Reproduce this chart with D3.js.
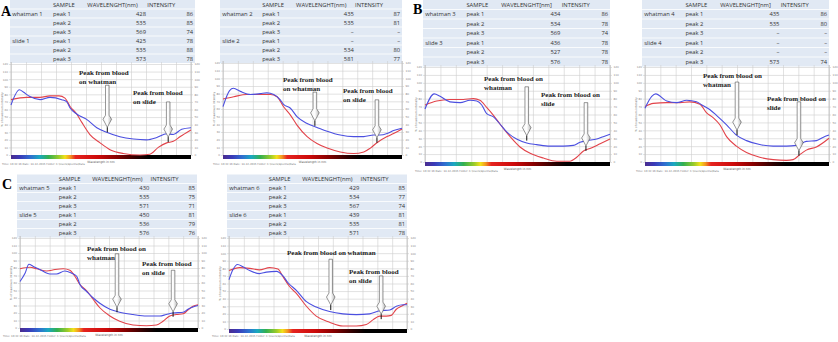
<!DOCTYPE html>
<html>
<head>
<meta charset="utf-8">
<script src="https://cdn.jsdelivr.net/npm/d3@7"></script>
<style>
  body { margin: 0; background: #fff; }
  svg { display: block; }
</style>
</head>
<body>
<svg id="fig" width="838" height="342"></svg>
<script>
// ---- Reflectance spectra: [wavelength nm, % of maximum intensity] ----
const whatmanCurve1 = [[400,66],[428,86],[441,83],[463,77],[497,73],[530,76],[569,73],[586,70],[597,62],[619,54],[652,47],[686,36],[719,30],[763,24],[808,21],[852,20],[886,23],[919,28],[941,27],[969,34],[1000,36]];
const slideCurve1   = [[400,73],[452,76],[497,76],[530,78],[560,78],[580,75],[597,64],[619,54],[636,43],[663,27],[697,16],[730,7],[774,2],[830,0],[863,1],[891,10],[919,16],[941,18],[963,24],[1000,33]];

const whatmanCurve2 = [[400,63],[422,84],[435,87],[458,83],[492,79],[525,80],[547,81],[570,79],[592,72],[603,66],[626,61],[648,50],[682,41],[715,36],[749,31],[793,26],[838,24],[872,24],[905,26],[927,26],[950,28],[972,32],[1000,35]];
const slideCurve2   = [[400,73],[436,76],[480,79],[525,79],[559,79],[581,76],[603,63],[626,52],[648,39],[682,24],[715,15],[749,9],[793,4],[838,2],[872,4],[894,9],[916,16],[950,24],[972,28],[1000,34]];

const whatmanCurve3 = [[400,67],[430,86],[449,83],[481,76],[514,75],[546,78],[568,77],[584,72],[600,61],[622,57],[643,48],[665,38],[697,29],[730,24],[762,22],[805,20],[849,20],[881,21],[903,25],[924,27],[957,29],[978,32],[1000,35]];
const slideCurve3   = [[400,72],[438,77],[481,79],[524,79],[557,80],[578,78],[600,69],[622,59],[643,48],[676,32],[708,19],[741,11],[784,5],[827,1],[870,1],[892,6],[914,14],[935,17],[968,23],[1000,29]];

const whatmanCurve4 = [[400,68],[422,83],[435,86],[471,77],[503,75],[536,78],[568,76],[590,71],[612,66],[633,59],[666,47],[698,34],[731,27],[774,22],[818,20],[861,20],[894,21],[926,26],[959,27],[980,31],[1000,34]];
const slideCurve4   = [[400,70],[427,74],[471,75],[514,75],[546,76],[579,73],[601,62],[622,56],[644,47],[666,32],[698,20],[731,12],[774,6],[818,3],[861,2],[883,3],[904,9],[926,15],[959,19],[1000,30]];

const whatmanCurve5 = [[400,62],[417,73],[430,85],[445,82],[467,78],[501,72],[523,72],[551,76],[574,73],[591,69],[602,58],[624,49],[647,40],[669,33],[703,25],[736,21],[781,18],[826,16],[871,16],[893,18],[916,20],[950,21],[966,25],[983,28],[1000,30]];
const slideCurve5   = [[400,79],[434,81],[456,79],[490,76],[518,78],[546,79],[568,77],[585,69],[602,58],[624,50],[647,38],[669,27],[703,16],[736,9],[781,4],[826,3],[860,4],[882,9],[905,16],[927,18],[950,19],[966,24],[983,29],[1000,31]];

const whatmanCurve6 = [[400,65],[413,78],[429,85],[447,82],[470,77],[503,73],[526,75],[560,76],[582,70],[599,61],[627,51],[661,36],[694,29],[739,23],[784,20],[829,19],[874,20],[908,24],[942,25],[964,30],[987,32],[1000,32]];
const slideCurve6   = [[400,77],[436,81],[470,80],[503,78],[537,81],[565,79],[582,69],[604,56],[627,47],[661,30],[694,17],[739,9],[784,4],[829,4],[863,6],[885,12],[908,17],[930,17],[947,18],[964,26],[981,30],[1000,34]];

// ---- Peak tables: [wavelength nm, intensity]; null = no peak found ----
const peakNames = ["peak 1", "peak 2", "peak 3"];
const whatmanPeaks1 = [[428,86],[535,85],[569,74]];
const slidePeaks1   = [[425,78],[535,88],[573,78]];
const whatmanPeaks2 = [[435,87],[535,81],null];
const slidePeaks2   = [null,[534,80],[581,77]];
const whatmanPeaks3 = [[434,86],[534,78],[569,74]];
const slidePeaks3   = [[436,78],[527,78],[576,78]];
const whatmanPeaks4 = [[435,86],[535,80],null];
const slidePeaks4   = [null,null,[573,74]];
const whatmanPeaks5 = [[430,85],[535,75],[571,71]];
const slidePeaks5   = [[450,81],[536,79],[576,76]];
const whatmanPeaks6 = [[429,85],[534,77],[567,74]];
const slidePeaks6   = [[439,81],[535,81],[571,78]];

// axis ranges
const wavelengthRange = [400, 1000];
const wavelengthTicks = d3.range(400, 1001, 50);
const intensityRange = [0, 120];
const intensityTicks = d3.range(0, 121, 10);

// ---- Panel layout ----
const panels = [
  { n: 1, letter: {t: "A", x: 1, y: 16}, head: "WAVELENGHT(nm)",
    w: whatmanCurve1, s: slideCurve1, wp: whatmanPeaks1, sp: slidePeaks1,
    table: {x: 10, y: 0, w: 185, rowH: 9},
    plot: {x0: 11, x1: 191, y0: 64, y1: 155}, footY: 165, footX: 2,
    arrows: [
      {wl: 721, top: 92, tip: 30, lines: ["Peak from blood", "on whatman"], tx: 79, ty: 73},
      {wl: 924, top: 70, tip: 17, lines: ["Peak from blood", "on slide"], tx: 133, ty: 93}
    ] },
  { n: 2, letter: null, head: "WAVELENGHT(nm)",
    w: whatmanCurve2, s: slideCurve2, wp: whatmanPeaks2, sp: slidePeaks2,
    table: {x: 220, y: 0, w: 182, rowH: 9},
    plot: {x0: 223, x1: 402, y0: 63, y1: 155}, footY: 165, footX: 213,
    arrows: [
      {wl: 708, top: 82, tip: 38, lines: ["Peak from blood", "on whatman"], tx: 283, ty: 80},
      {wl: 916, top: 72, tip: 16, lines: ["Peak from blood", "on slide"], tx: 343, ty: 91}
    ] },
  { n: 3, letter: {t: "B", x: 413, y: 14}, head: "WAVELENGHT[nm]",
    w: whatmanCurve3, s: slideCurve3, wp: whatmanPeaks3, sp: slidePeaks3,
    table: {x: 423, y: 0, w: 187, rowH: 9.5},
    plot: {x0: 425, x1: 610, y0: 67, y1: 162}, footY: 172, footX: 415,
    arrows: [
      {wl: 730, top: 95, tip: 27, lines: ["Peak from blood on", "whatman"], tx: 484, ty: 79},
      {wl: 922, top: 75, tip: 14, lines: ["Peak from blood on", "slide"], tx: 541, ty: 95}
    ] },
  { n: 4, letter: null, head: "WAVELENGHT[nm]",
    w: whatmanCurve4, s: slideCurve4, wp: whatmanPeaks4, sp: slidePeaks4,
    table: {x: 642, y: 0, w: 187, rowH: 9.5},
    plot: {x0: 645, x1: 829, y0: 67, y1: 162}, footY: 172, footX: 636,
    arrows: [
      {wl: 700, top: 101, tip: 34, lines: ["Peak from blood on", "whatman"], tx: 703, ty: 76},
      {wl: 902, top: 76, tip: 8, lines: ["Peak from blood on", "slide"], tx: 767, ty: 99}
    ] },
  { n: 5, letter: {t: "C", x: 2, y: 189}, head: "WAVELENGHT(nm)",
    w: whatmanCurve5, s: slideCurve5, wp: whatmanPeaks5, sp: slidePeaks5,
    table: {x: 17, y: 174.5, w: 180, rowH: 9},
    plot: {x0: 20, x1: 198, y0: 238, y1: 328}, footY: 337, footX: 3,
    arrows: [
      {wl: 727, top: 99, tip: 21, lines: ["Peak from blood on", "whatman"], tx: 87, ty: 249},
      {wl: 916, top: 77, tip: 15, lines: ["Peak from blood", "on slide"], tx: 142, ty: 264}
    ] },
  { n: 6, letter: null, head: "WAVELENGHT(nm)",
    w: whatmanCurve6, s: slideCurve6, wp: whatmanPeaks6, sp: slidePeaks6,
    table: {x: 227, y: 174.5, w: 180, rowH: 9},
    plot: {x0: 229, x1: 407, y0: 238, y1: 329}, footY: 337, footX: 212,
    arrows: [
      {wl: 743, top: 92, tip: 25, lines: ["Peak from blood on whatman"], tx: 287, ty: 253},
      {wl: 913, top: 70, tip: 13, lines: ["Peak from blood", "on slide"], tx: 349, ty: 272}
    ] }
];

const svg = d3.select("#fig");
svg.append("rect").attr("width", 838).attr("height", 342).attr("fill", "#fff");

// visible-spectrum strip under each plot
const spectrumStops = [
  [400, "#4a2c8e"], [430, "#3a3ab8"], [465, "#2f6fd0"], [495, "#1aa8c0"],
  [525, "#33b050"], [560, "#9ccc2a"], [580, "#f2e21c"], [598, "#f39220"],
  [615, "#e52420"], [690, "#cc0a0a"], [750, "#8a0000"], [820, "#2a0000"],
  [860, "#000"], [1000, "#000"]
];
const defs = svg.append("defs");
const grad = defs.append("linearGradient").attr("id", "spectrum");
const specFrac = d3.scaleLinear().domain(wavelengthRange).range([0, 1]);
spectrumStops.forEach(([wl, c]) => {
  grad.append("stop").attr("offset", specFrac(wl)).attr("stop-color", c);
});

const tableFont = "'Open Sans', 'Liberation Sans', sans-serif";
const serifBold = "'Liberation Serif', 'DejaVu Serif', serif";

function drawTable(g, p) {
  const t = p.table;
  const nRows = 7;
  const h = t.rowH * nRows;
  g.append("rect").attr("x", t.x).attr("y", t.y).attr("width", t.w).attr("height", h)
    .attr("fill", "#e1e9f4");
  for (let i = 1; i < nRows; i++) {
    g.append("line").attr("x1", t.x).attr("x2", t.x + t.w)
      .attr("y1", t.y + i * t.rowH).attr("y2", t.y + i * t.rowH)
      .attr("stroke", "#fff").attr("stroke-width", 0.8);
  }
  const col = {
    label: t.x + 0.012 * t.w, sample: t.x + 0.232 * t.w, wlHead: t.x + 0.418 * t.w,
    wlEnd: t.x + 0.735 * t.w, intHead: t.x + 0.742 * t.w, intEnd: t.x + 0.99 * t.w
  };
  const txt = (x, i, s, anchor) => g.append("text")
    .attr("x", x).attr("y", t.y + (i + 0.5) * t.rowH + 2)
    .attr("text-anchor", anchor || "start")
    .attr("font-family", tableFont).attr("font-size", 5.8).attr("fill", "#333")
    .text(s);
  txt(col.sample, 0, "SAMPLE");
  txt(col.wlHead, 0, p.head);
  txt(col.intHead, 0, "INTENSITY");
  const rows = [
    ...p.wp.map((v, k) => ({label: k === 0 ? "whatman " + p.n : "", peak: peakNames[k], v})),
    ...p.sp.map((v, k) => ({label: k === 0 ? "slide " + p.n : "", peak: peakNames[k], v}))
  ];
  rows.forEach((r, k) => {
    const i = k + 1;
    if (r.label) txt(col.label, i, r.label);
    txt(col.sample, i, r.peak);
    txt(col.wlEnd, i, r.v ? r.v[0] : "\u2013", "end");
    txt(col.intEnd, i, r.v ? r.v[1] : "\u2013", "end");
  });
}

function drawChart(g, p) {
  const P = p.plot;
  const x = d3.scaleLinear().domain(wavelengthRange).range([P.x0, P.x1]);
  const y = d3.scaleLinear().domain(intensityRange).range([P.y1, P.y0]);

  g.append("rect").attr("x", P.x0).attr("y", P.y0).attr("width", P.x1 - P.x0)
    .attr("height", P.y1 - P.y0).attr("fill", "#fff");

  // horizontal grid with labels on both sides
  const yl = g.append("g").attr("transform", `translate(${P.x0},0)`)
    .call(d3.axisLeft(y).tickValues(intensityTicks).tickSize(-(P.x1 - P.x0 + 2)).tickPadding(3));
  const yr = g.append("g").attr("transform", `translate(${P.x1},0)`)
    .call(d3.axisRight(y).tickValues(intensityTicks).tickSize(2).tickPadding(1.5));
  // vertical grid
  const xg = g.append("g").attr("transform", `translate(0,${P.y1})`)
    .call(d3.axisTop(x).tickValues(wavelengthTicks).tickSize(P.y1 - P.y0 + 2).tickFormat(""));
  [yl, yr, xg].forEach(a => {
    a.select(".domain").remove();
    a.selectAll("line").attr("stroke", "#cfcfcf").attr("stroke-width", 0.6);
    a.selectAll("text").attr("font-size", 2.8).attr("fill", "#8a8a8a")
      .attr("font-family", "'DejaVu Sans', sans-serif");
  });
  yl.selectAll(".tick line").attr("transform", "translate(-2,0)");
  yl.selectAll(".tick text").attr("x", -3);
  // frame sides
  [P.x0, P.x1].forEach(xx => g.append("line").attr("x1", xx).attr("x2", xx)
    .attr("y1", P.y0 - 2).attr("y2", P.y1).attr("stroke", "#b5b5b5").attr("stroke-width", 0.7));

  // y axis title
  g.append("text")
    .attr("transform", `translate(${P.x0 - 8},${(P.y0 + P.y1) / 2}) rotate(-90)`)
    .attr("text-anchor", "middle").attr("font-size", 2.8).attr("fill", "#666")
    .attr("font-family", "'DejaVu Sans', sans-serif")
    .text("% of maximum intensity");

  // spectrum strip and x label
  g.append("rect").attr("x", P.x0).attr("y", P.y1).attr("width", P.x1 - P.x0)
    .attr("height", 4).attr("fill", "url(#spectrum)");
  g.append("text").attr("x", (P.x0 + P.x1) / 2).attr("y", P.y1 + 7.5)
    .attr("text-anchor", "middle").attr("font-size", 3).attr("fill", "#555")
    .attr("font-family", "'DejaVu Sans', sans-serif").text("Wavelength in nm");
  g.append("text").attr("x", p.footX).attr("y", p.footY)
    .attr("font-size", 2.6).attr("fill", "#777")
    .attr("font-family", "'DejaVu Sans', sans-serif")
    .text("Time: 10:32:16     Date: 14-12-2015     Folder: C:\\Users\\Spectra\\Data");

  // spectra
  const line = d3.line().x(d => x(d[0])).y(d => y(d[1])).curve(d3.curveMonotoneX);
  g.append("path").datum(p.s).attr("d", line).attr("fill", "none")
    .attr("stroke", "#e2434a").attr("stroke-width", 1.1);
  g.append("path").datum(p.w).attr("d", line).attr("fill", "none")
    .attr("stroke", "#4b4fe0").attr("stroke-width", 1.1);

  // peak arrows with captions
  p.arrows.forEach(a => {
    const ax = x(a.wl), yt = y(a.top), yTip = y(a.tip);
    const tick = 5, headL = 12, sw = 1.8, hw = 4.3;
    const yH = yTip - tick - headL;
    const path = `M${ax - sw},${yt} L${ax + sw},${yt} L${ax + sw},${yH} L${ax + hw},${yH + 4}
      L${ax},${yTip - tick} L${ax - hw},${yH + 4} L${ax - sw},${yH} Z`;
    g.append("path").attr("d", path).attr("fill", "url(#arrowFill)")
      .attr("stroke", "#444").attr("stroke-width", 0.55);
    g.append("line").attr("x1", ax).attr("x2", ax).attr("y1", yTip - tick).attr("y2", yTip)
      .attr("stroke", "#111").attr("stroke-width", 1);
    a.lines.forEach((s, i) => {
      g.append("text").attr("x", a.tx).attr("y", a.ty + i * 8.2 + 2.4)
        .attr("font-family", serifBold).attr("font-weight", "bold")
        .attr("font-size", 7).attr("fill", "#1a1a1a").text(s);
    });
  });
}

const af = defs.append("linearGradient").attr("id", "arrowFill");
af.append("stop").attr("offset", 0).attr("stop-color", "#f4f4f4");
af.append("stop").attr("offset", 0.5).attr("stop-color", "#ffffff");
af.append("stop").attr("offset", 1).attr("stop-color", "#b8b8b8");

panels.forEach(p => {
  const g = svg.append("g");
  drawTable(g, p);
  drawChart(g, p);
  if (p.letter) {
    g.append("text").attr("x", p.letter.x).attr("y", p.letter.y)
      .attr("font-family", serifBold).attr("font-weight", "bold")
      .attr("font-size", 14).attr("fill", "#000").text(p.letter.t);
  }
});
</script>
</body>
</html>
